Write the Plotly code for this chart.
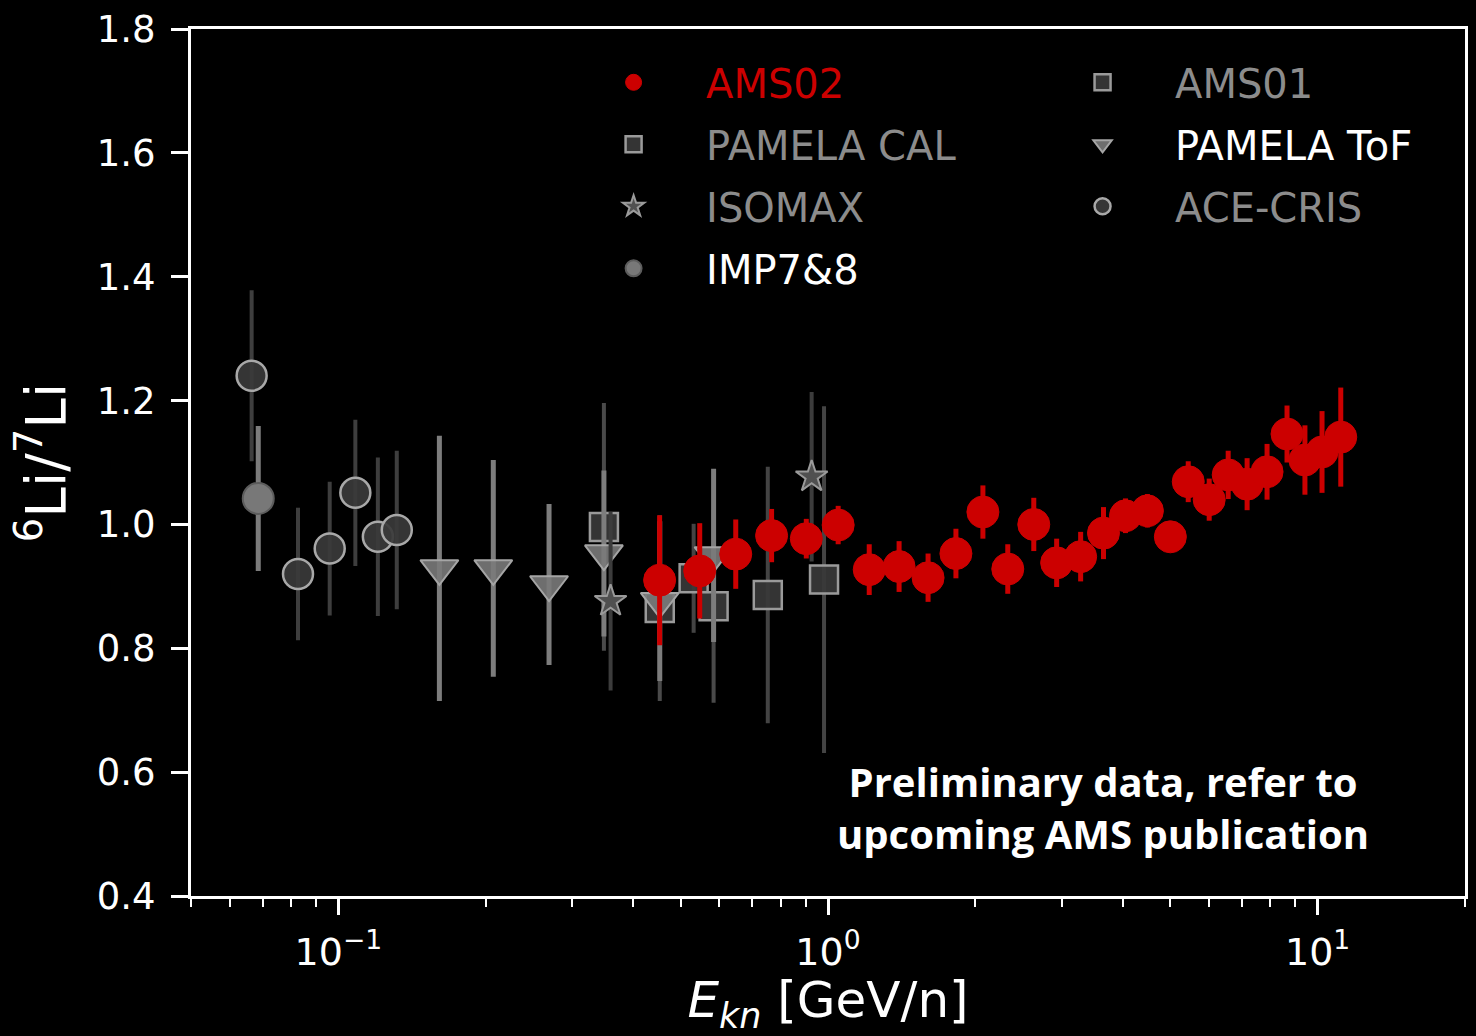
import plotly.graph_objects as go
import numpy as np

# ---------------- data ----------------
ams02_x = [0.453, 0.547, 0.648, 0.767, 0.903, 1.049, 1.214, 1.397, 1.601, 1.825, 2.072, 2.329, 2.632, 2.931,
           3.281, 3.653, 4.051, 4.491, 5.003, 5.442, 6.006, 6.567, 7.178, 7.884, 8.660, 9.421, 10.21, 11.15]
ams02_y = [0.910, 0.925, 0.952, 0.982, 0.977, 0.999, 0.927, 0.932, 0.914, 0.953, 1.020, 0.928, 1.000, 0.938,
           0.948, 0.986, 1.014, 1.022, 0.980, 1.069, 1.040, 1.080, 1.065, 1.085, 1.146, 1.104, 1.117, 1.141]
ams02_e = [0.105, 0.077, 0.056, 0.043, 0.032, 0.031, 0.041, 0.041, 0.039, 0.040, 0.043, 0.040, 0.043, 0.039,
           0.040, 0.042, 0.028, 0.027, 0.020, 0.033, 0.034, 0.039, 0.042, 0.045, 0.046, 0.056, 0.066, 0.080]

ace_x = [0.0665, 0.0827, 0.0960, 0.1083, 0.1204, 0.1316]
ace_y = [1.240, 0.920, 0.961, 1.051, 0.980, 0.991]
ace_e = [0.138, 0.107, 0.108, 0.118, 0.128, 0.128]

imp_x = [0.0686]
imp_y = [1.042]
imp_e = [0.117]

pamtof_x = [0.1608, 0.2072, 0.2693, 0.3486, 0.4533, 0.5839]
pamtof_y = [0.929, 0.929, 0.903, 0.953, 0.876, 0.950]
pamtof_e = [0.214, 0.175, 0.130, 0.134, 0.129, 0.140]

pamcal_x = [0.3486, 0.4533, 0.5839]
pamcal_y = [0.996, 0.865, 0.868]
pamcal_e = [0.200, 0.150, 0.156]

ams01_x = [0.5316, 0.7534, 0.9815]
ams01_y = [0.913, 0.886, 0.911]
ams01_e = [0.088, 0.207, 0.280]

isomax_x = [0.3597, 0.926]
isomax_y = [0.876, 1.077]
isomax_e = [0.144, 0.137]

x_tickvals = [0.1, 1, 10]
x_ticktext = ["10<sup>\u22121</sup>", "10<sup>0</sup>", "10<sup>1</sup>"]
minor_ticks = [m * 10.0 ** e for e in (-2, -1, 0, 1) for m in range(2, 10)]

GRAY_TXT = "#8c8c8c"

fig = go.Figure()

def add(x, y, e, name, symbol, size, fill, edge, edgew, ecolor, ethick, legend, rank, txtcolor):
    fig.add_trace(go.Scatter(
        x=x, y=y, mode="markers",
        name=f"<span style='color:{txtcolor}'>{name}</span>",
        legend=legend, legendgroup=name, legendrank=rank,
        marker=dict(symbol=symbol, size=size, color=fill, line=dict(color=edge, width=edgew)),
        error_y=dict(type="data", array=e, visible=True, color=ecolor, thickness=ethick, width=0),
    ))

add(ace_x, ace_y, ace_e, "ACE-CRIS", "circle", 30, "rgba(58,58,58,0.92)", "#a8a8a8", 2.5, "#3e3e3e", 4, "legend2", 3, GRAY_TXT)
add(imp_x, imp_y, imp_e, "IMP7&8", "circle", 31, "#787878", "#5c5c5c", 2, "#7c7c7c", 5, "legend", 4, "#ffffff")
add(ams01_x, ams01_y, ams01_e, "AMS01", "square", 28, "rgba(56,56,56,0.92)", "#9a9a9a", 2.5, "#444444", 4, "legend2", 1, GRAY_TXT)
add(pamcal_x, pamcal_y, pamcal_e, "PAMELA CAL", "square", 28, "rgba(56,56,56,0.92)", "#9a9a9a", 2.5, "#4a4a4a", 4, "legend", 2, GRAY_TXT)
add(pamtof_x, pamtof_y, pamtof_e, "PAMELA ToF", "triangle-down", 33, "rgba(122,122,122,0.9)", "#a5a5a5", 2, "#7d7d7d", 5, "legend2", 2, "#ffffff")
add(isomax_x, isomax_y, isomax_e, "ISOMAX", "star", 24, "#505050", "#9a9a9a", 2, "#3c3c3c", 4, "legend", 3, GRAY_TXT)
add(ams02_x, ams02_y, ams02_e, "AMS02", "circle", 32, "#cc0000", "#cc0000", 1, "#cc0000", 5, "legend", 1, "#cc0000")

legend_common = dict(
    xanchor="left", yanchor="top", bgcolor="rgba(0,0,0,0)", borderwidth=0,
    font=dict(family="DejaVu Sans", size=40, color=GRAY_TXT),
    itemwidth=135, tracegroupgap=7, traceorder="grouped",
)

fig.update_layout(
    width=1476, height=1036,
    paper_bgcolor="black", plot_bgcolor="black",
    margin=dict(l=191, r=8, t=25, b=140),
    font=dict(family="DejaVu Sans", color="white"),
    legend=dict(x=0.2905, y=0.976, **legend_common),
    legend2=dict(x=0.6586, y=0.976, **legend_common),
    xaxis=dict(
        type="log", range=[np.log10(0.05), np.log10(20)],
        tickmode="array", tickvals=x_tickvals, ticktext=x_ticktext,
        ticks="outside", ticklen=16, tickwidth=3, tickcolor="white",
        tickfont=dict(family="DejaVu Sans", size=38, color="white"),
        ticklabelstandoff=4,
        minor=dict(tickmode="array", tickvals=minor_ticks, ticks="outside", ticklen=8, tickwidth=2, tickcolor="white"),
        showline=True, linecolor="white", linewidth=3, mirror=True,
        showgrid=False, zeroline=False,
        title=dict(text="<i>E</i><sub><i>kn</i></sub> [GeV/n]", font=dict(family="DejaVu Sans", size=50, color="white"), standoff=18),
    ),
    yaxis=dict(
        range=[0.4, 1.8], tick0=0.4, dtick=0.2, tickformat=".1f",
        ticks="outside", ticklen=17, tickwidth=3, tickcolor="white",
        tickfont=dict(family="DejaVu Sans", size=37, color="white"),
        ticklabelstandoff=8,
        showline=True, linecolor="white", linewidth=3, mirror=True,
        showgrid=False, zeroline=False,
        title=dict(text="<sup>6</sup>Li/<sup>7</sup>Li", font=dict(family="DejaVu Sans", size=55, color="white"), standoff=14),
    ),
    annotations=[dict(
        xref="paper", yref="paper", x=0.7157, y=0.102, xanchor="center", yanchor="middle",
        text="<b>Preliminary data, refer to<br>upcoming AMS publication</b>",
        showarrow=False, align="center",
        font=dict(family="Open Sans", size=40, color="white"),
    )],
)

fig.write_html("out.html")
